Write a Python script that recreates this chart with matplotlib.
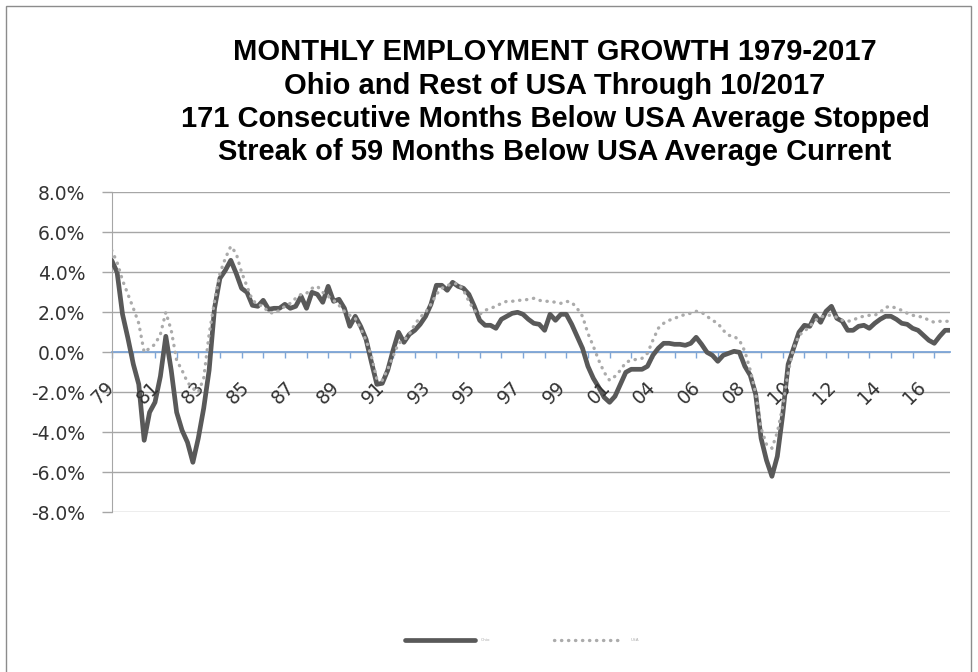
import numpy as np
import matplotlib
matplotlib.use("Agg")
import matplotlib.pyplot as plt
from matplotlib.patches import Rectangle
from matplotlib.ticker import FuncFormatter, MultipleLocator

OHIO = [
    4.6, 4.0, 1.9, 0.7,        # 1979
    -0.6, -1.6, -4.4, -3.0,    # 1980
    -2.5, -1.2, 0.8, -0.9,     # 1981
    -3.0, -3.9, -4.5, -5.5,    # 1982
    -4.3, -2.8, -0.9, 2.2,     # 1983
    3.7, 4.1, 4.6, 3.95,       # 1984
    3.2, 3.0, 2.35, 2.3,       # 1985
    2.6, 2.15, 2.2, 2.2,       # 1986
    2.4, 2.2, 2.3, 2.8,        # 1987
    2.2, 3.0, 2.9, 2.5,        # 1988
    3.3, 2.55, 2.65, 2.2,      # 1989
    1.3, 1.8, 1.3, 0.65,       # 1990
    -0.5, -1.6, -1.55, -0.9,   # 1991
    0.1, 1.0, 0.5, 0.9,        # 1992
    1.1, 1.4, 1.8, 2.4,        # 1993
    3.35, 3.35, 3.1, 3.5,      # 1994
    3.3, 3.2, 2.9, 2.3,        # 1995
    1.6, 1.35, 1.35, 1.2,      # 1996
    1.65, 1.8, 1.95, 2.0,      # 1997
    1.9, 1.65, 1.45, 1.4,      # 1998
    1.1, 1.9, 1.6, 1.9,        # 1999
    1.9, 1.4, 0.8, 0.2,        # 2000
    -0.7, -1.3, -1.75, -2.25,  # 2001
    -2.5, -2.2, -1.6, -1.0,    # 2002
    -0.85, -0.85, -0.85, -0.7, # 2003
    -0.15, 0.2, 0.45, 0.45,    # 2004
    0.4, 0.4, 0.35, 0.45,      # 2005
    0.75, 0.4, 0.0, -0.15,     # 2006
    -0.45, -0.15, -0.05, 0.05, # 2007
    0.0, -0.7, -1.15, -2.1,    # 2008
    -4.3, -5.4, -6.2, -5.2,    # 2009
    -3.1, -0.6, 0.2, 1.0,      # 2010
    1.35, 1.3, 1.85, 1.5,      # 2011
    2.05, 2.3, 1.7, 1.55,      # 2012
    1.1, 1.1, 1.3, 1.35,       # 2013
    1.2, 1.45, 1.65, 1.8,      # 2014
    1.8, 1.65, 1.45, 1.4,      # 2015
    1.2, 1.1, 0.85, 0.6,       # 2016
    0.45, 0.8, 1.1, 1.1,       # 2017
]

REST_USA = [
    5.1, 4.5, 3.6, 2.9,        # 1979
    2.2, 1.45, 0.0, 0.2,       # 1980
    0.4, 0.9, 2.0, 1.1,        # 1981
    -0.4, -0.9, -1.5, -1.8,    # 1982
    -2.0, -1.3, 0.9, 2.55,     # 1983
    3.95, 4.7, 5.3, 4.95,      # 1984
    4.0, 3.3, 2.6, 2.4,        # 1985
    2.3, 2.0, 1.95, 2.1,       # 1986
    2.3, 2.45, 2.7, 2.9,       # 1987
    2.95, 3.2, 3.3, 3.0,       # 1988
    2.8, 2.6, 2.35, 2.05,      # 1989
    1.85, 1.7, 1.2, 0.6,       # 1990
    -0.2, -1.35, -1.4, -0.85,  # 1991
    -0.2, 0.45, 0.6, 0.9,      # 1992
    1.4, 1.75, 2.0, 2.4,       # 1993
    2.9, 3.2, 3.35, 3.4,       # 1994
    3.45, 3.1, 2.55, 2.1,      # 1995
    1.9, 2.1, 2.2, 2.3,        # 1996
    2.45, 2.55, 2.55, 2.6,     # 1997
    2.6, 2.65, 2.7, 2.6,       # 1998
    2.55, 2.55, 2.5, 2.45,     # 1999
    2.55, 2.5, 2.2, 1.8,       # 2000
    0.95, 0.3, -0.4, -1.0,     # 2001
    -1.4, -1.2, -0.9, -0.5,    # 2002
    -0.4, -0.35, -0.3, -0.05,  # 2003
    0.6, 1.2, 1.45, 1.6,       # 2004
    1.7, 1.8, 1.9, 1.95,       # 2005
    2.05, 2.0, 1.8, 1.6,       # 2006
    1.45, 1.1, 0.85, 0.8,      # 2007
    0.6, 0.05, -0.9, -2.05,    # 2008
    -3.8, -4.6, -4.8, -4.0,    # 2009
    -2.7, -1.0, 0.2, 0.85,     # 2010
    1.05, 1.3, 1.6, 1.75,      # 2011
    1.85, 1.85, 1.75, 1.6,     # 2012
    1.55, 1.6, 1.75, 1.8,      # 2013
    1.85, 1.85, 2.0, 2.25,     # 2014
    2.3, 2.2, 2.1, 1.95,       # 2015
    1.85, 1.8, 1.75, 1.6,      # 2016
    1.5, 1.55, 1.55, 1.55,     # 2017
]

MONTH_STEP = 3
N_MONTHS = 466
LABEL_EVERY = 25   # category labels every 25 months (hence 01 -> 04)
TICK_EVERY = 12
X_LABELS = ["79", "81", "83", "85", "87", "89", "91", "93", "95", "97",
            "99", "01", "04", "06", "08", "10", "12", "14", "16"]
LEGEND_LABELS = ["Ohio", "USA"]
TITLE_LINES = [
    "MONTHLY EMPLOYMENT GROWTH 1979-2017",
    "Ohio and Rest of USA Through 10/2017",
    "171 Consecutive Months Below USA Average Stopped",
    "Streak of 59 Months Below USA Average Current",
]

TICK_FONT = ["DejaVu Sans"]
TICK_COLOR = "#333333"

W, H = 979, 672
fig = plt.figure(figsize=(W / 100, H / 100), dpi=100)
fig.patch.set_facecolor("white")

# chart area border
fig.add_artist(Rectangle((6 / W, -0.02), 965 / W, 1.02 - 6 / H,
                         transform=fig.transFigure, fill=False,
                         edgecolor="#8C8C8C", linewidth=1.0))

ax = fig.add_axes([111.7 / W, 1 - 512.3 / H, 838.8 / W, 320 / H])

months = np.arange(len(OHIO)) * MONTH_STEP
ax.plot(months, OHIO, color="#595959", linewidth=3.4,
        solid_joinstyle="round", solid_capstyle="round", zorder=3,
        label=LEGEND_LABELS[0])
ax.plot(months, REST_USA, color="#ABABAB", linewidth=2.4,
        linestyle=(0, (0.1, 2.0)), dash_capstyle="round", zorder=4,
        label=LEGEND_LABELS[1])

ax.set_xlim(0, N_MONTHS - 1)
ax.set_ylim(-8, 8)
ax.yaxis.set_major_locator(MultipleLocator(2))
ax.yaxis.set_major_formatter(FuncFormatter(lambda v, p: f"{v:.1f}%"))
ax.set_axisbelow(True)
ax.yaxis.grid(True, color="#A6A6A6", linewidth=1.0)

for s in ["top", "right"]:
    ax.spines[s].set_visible(False)
ax.spines["left"].set_color("#A6A6A6")
ax.spines["bottom"].set_position(("data", 0))
ax.spines["bottom"].set_color("#7EA6D8")
ax.spines["bottom"].set_linewidth(1.3)
ax.spines["bottom"].set_zorder(1)

ax.set_xticks(np.arange(0, N_MONTHS, TICK_EVERY))
ax.set_xticklabels([])
ax.tick_params(axis="x", direction="out", length=4.5, width=1, color="#7EA6D8")
ax.tick_params(axis="y", direction="out", length=7, width=1, color="#A6A6A6",
               pad=12, labelsize=13.5, labelcolor=TICK_COLOR)
for lab in ax.get_yticklabels():
    lab.set_family(TICK_FONT)

# rotated category labels, as Excel drew them
for i, txt in enumerate(X_LABELS):
    ax.text(i * LABEL_EVERY - 4.7, -2.0, txt, rotation=45, ha="center",
            va="center", rotation_mode="anchor", fontsize=13.5,
            color=TICK_COLOR, family=TICK_FONT)

title_base = [60, 93.5, 127, 160.5]
for line, yb in zip(TITLE_LINES, title_base):
    fig.text(555 / W, 1 - yb / H, line, ha="center", va="baseline",
             fontsize=21, fontweight="bold", color="black",
             family=["Liberation Sans", "DejaVu Sans"])

fig.legend(loc="center", bbox_to_anchor=(522 / W, 1 - 640 / H), ncol=2,
           frameon=False, fontsize=3, handlelength=16.8, handletextpad=1.4,
           columnspacing=15.3, labelcolor="#AAAAAA")

fig.savefig("out.png", dpi=100, facecolor="white")
